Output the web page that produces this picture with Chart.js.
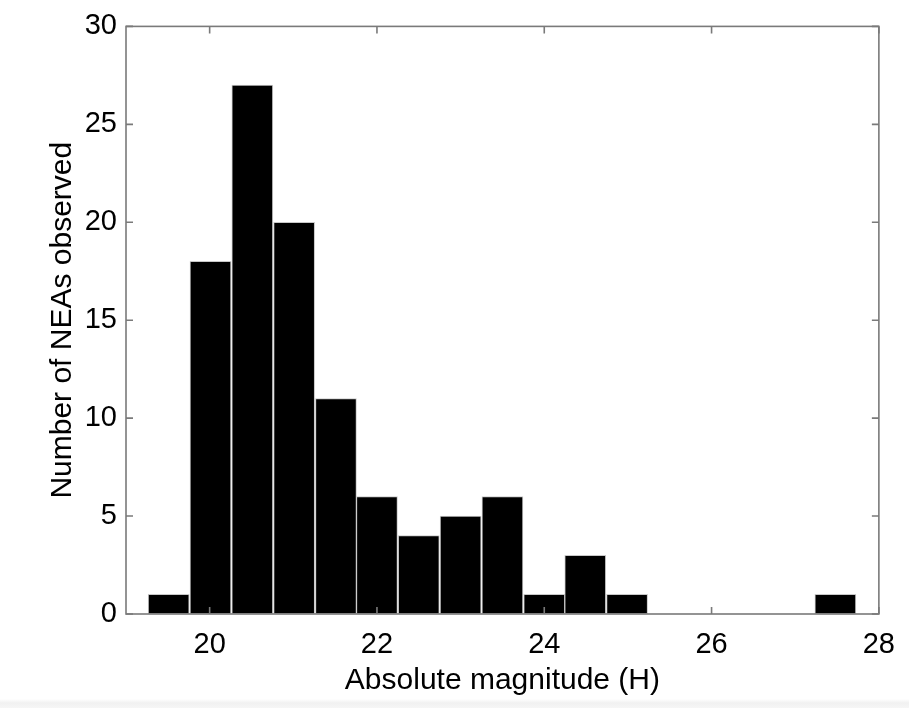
<!DOCTYPE html>
<html><head><meta charset="utf-8">
<script src="https://cdn.jsdelivr.net/npm/chart.js@4"></script>
<style>
html,body{margin:0;padding:0;background:#fff;}
#wrap{width:909px;height:708px;position:relative;background:linear-gradient(to bottom,#fff 0,#fff 699px,#f1f1f1 703px,#f6f6f6 708px);}
canvas{display:block;}
</style></head>
<body><div id="wrap"><canvas id="c" width="909" height="708"></canvas></div>
<script>
const binCenters = [19.51, 20.01, 20.51, 21.01, 21.51, 22.00, 22.50, 23.00, 23.50, 24.00, 24.49, 24.99, 25.49, 25.99, 26.49, 26.98, 27.48];
const counts = [1, 18, 27, 20, 11, 6, 4, 5, 6, 1, 3, 1, 0, 0, 0, 0, 1];
const xTicks = [20, 22, 24, 26, 28];
const yTicks = [0, 5, 10, 15, 20, 25, 30];
const xLabel = 'Absolute magnitude (H)';
const yLabel = 'Number of NEAs observed';

const FONT = 'Liberation Sans, Arial, Helvetica, sans-serif';

const boxTicks = {
  id: 'boxTicks',
  afterDatasetsDraw(chart) {
    const {ctx, chartArea: a, scales: {x, y}} = chart;
    ctx.save();
    ctx.strokeStyle = '#7a7a7a';
    ctx.lineWidth = 1.6;
    ctx.strokeRect(a.left, a.top, a.right - a.left, a.bottom - a.top);
    const L = 7;
    ctx.beginPath();
    xTicks.forEach(v => {
      const px = x.getPixelForValue(v);
      ctx.moveTo(px, a.bottom); ctx.lineTo(px, a.bottom - L);
      ctx.moveTo(px, a.top); ctx.lineTo(px, a.top + L);
    });
    yTicks.forEach(v => {
      const py = y.getPixelForValue(v);
      ctx.moveTo(a.left, py); ctx.lineTo(a.left + L, py);
      ctx.moveTo(a.right, py); ctx.lineTo(a.right - L, py);
    });
    ctx.stroke();
    ctx.restore();
  }
};

new Chart(document.getElementById('c'), {
  type: 'bar',
  data: {
    datasets: [{
      data: binCenters.map((c, i) => ({x: c, y: counts[i]})),
      backgroundColor: '#000',
      borderColor: '#c8c8c8',
      borderWidth: 1,
      borderSkipped: false,
      barPercentage: 1,
      categoryPercentage: 1
    }]
  },
  options: {
    responsive: false,
    animation: false,
    devicePixelRatio: 1,
    layout: {padding: {left: 0, right: 29, top: 20, bottom: 0}},
    plugins: {legend: {display: false}, tooltip: {enabled: false}},
    scales: {
      x: {
        type: 'linear',
        min: 19, max: 28,
        offset: false,
        grid: {display: false, offset: false, drawTicks: false},
        border: {display: false},
        afterBuildTicks: s => { s.ticks = xTicks.map(v => ({value: v})); },
        afterFit: s => { s.height = 94; },
        ticks: {color: '#000', padding: 14, font: {family: FONT, size: 29}, maxRotation: 0, autoSkip: false},
        title: {display: true, text: xLabel, color: '#000', font: {family: FONT, size: 30}, padding: {top: 0, bottom: 9}}
      },
      y: {
        min: 0, max: 30,
        grid: {display: false, drawTicks: false},
        border: {display: false},
        afterBuildTicks: s => { s.ticks = yTicks.map(v => ({value: v})); },
        afterFit: s => { s.width = 126; },
        ticks: {color: '#000', padding: 9, font: {family: FONT, size: 29}},
        title: {display: true, text: yLabel, color: '#000', font: {family: FONT, size: 30}, padding: {top: 45, bottom: 0}}
      }
    }
  },
  plugins: [boxTicks]
});
</script>
</body></html>
